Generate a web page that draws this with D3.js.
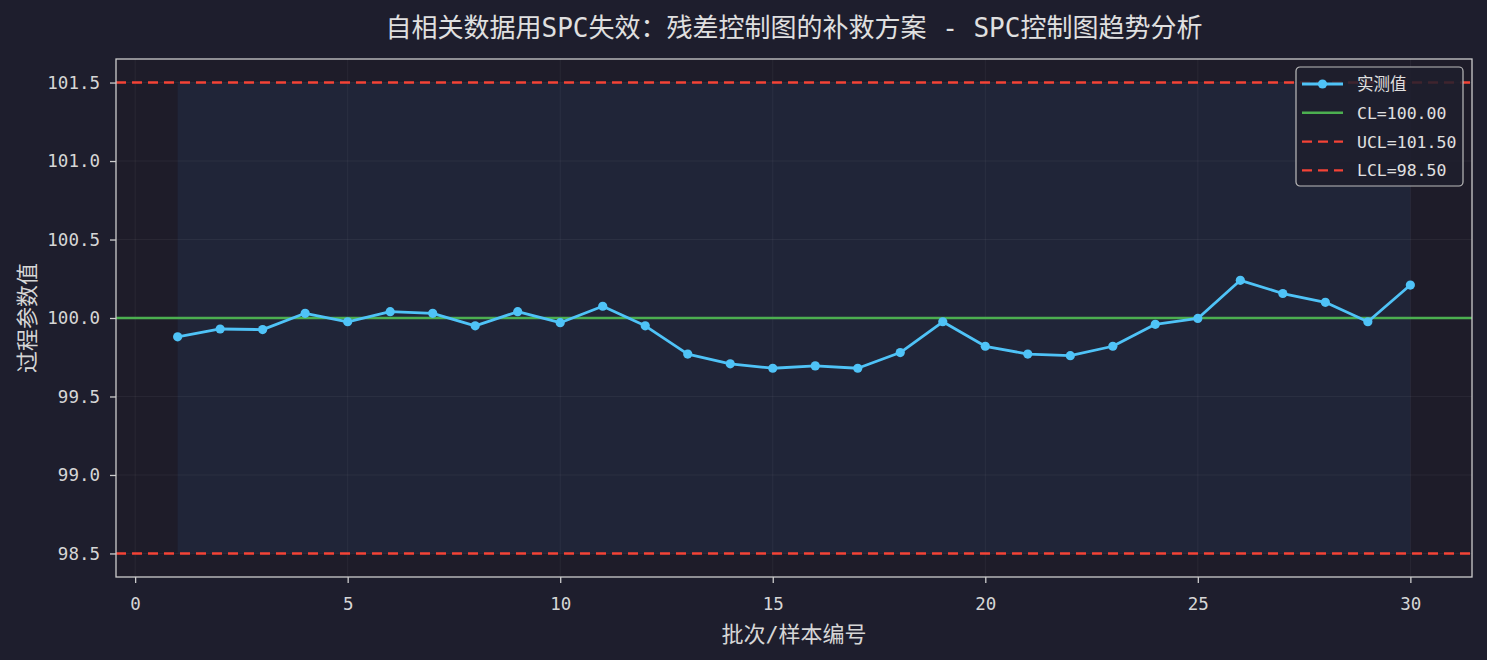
<!DOCTYPE html>
<html><head><meta charset="utf-8">
<script src="https://cdn.jsdelivr.net/npm/d3@7"></script>
<style>
html,body{margin:0;padding:0;background:#1e1e2d;}
svg{display:block;}
text{font-family:"DejaVu Sans Mono","Noto Sans CJK SC",monospace;}
</style></head>
<body>
<script>
const batches = d3.range(1, 31);
const values = [99.88,99.93,99.926,100.03,99.976,100.04,100.03,99.95,100.04,99.97,
  100.075,99.95,99.77,99.708,99.68,99.695,99.68,99.78,99.976,99.82,
  99.77,99.76,99.82,99.96,99.997,100.24,100.156,100.10,99.976,100.21];
const CL = 100.0, UCL = 101.5, LCL = 98.5;
const xTicks = [0,5,10,15,20,25,30];
const yTicks = [98.5,99.0,99.5,100.0,100.5,101.0,101.5];
const legendLabels = ["实测值","CL=100.00","UCL=101.50","LCL=98.50"];
const title = "自相关数据用SPC失效：残差控制图的补救方案 - SPC控制图趋势分析";
const xLabel = "批次/样本编号", yLabel = "过程参数值";

const W = 1487, H = 660;
const m = {left:116, right:W-1472, top:59, bottom:H-577};
const svg = d3.select("body").append("svg").attr("width",W).attr("height",H);
svg.append("rect").attr("width",W).attr("height",H).attr("fill","#1e1e2d");

const x = d3.scaleLinear().domain([-0.45,31.45]).range([m.left, W-m.right]);
const y = d3.scaleLinear().domain([98.35,101.65]).range([H-m.bottom, m.top]);

// axes background
svg.append("rect").attr("x",m.left).attr("y",m.top).attr("width",W-m.left-m.right).attr("height",H-m.top-m.bottom).attr("fill","#1e1c29");
// band
svg.append("rect").attr("x",x(1)).attr("y",y(UCL)).attr("width",x(30)-x(1)).attr("height",y(LCL)-y(UCL)).attr("fill","#202538");

// grid
const g = svg.append("g");
g.selectAll(".gx").data(xTicks).join("line").attr("x1",d=>x(d)).attr("x2",d=>x(d)).attr("y1",m.top).attr("y2",H-m.bottom).attr("stroke","#ffffff").attr("stroke-opacity",0.05).attr("stroke-width",1);
g.selectAll(".gy").data(yTicks).join("line").attr("y1",d=>y(d)).attr("y2",d=>y(d)).attr("x1",m.left).attr("x2",W-m.right).attr("stroke","#ffffff").attr("stroke-opacity",0.05).attr("stroke-width",1);

// control lines
svg.append("line").attr("x1",m.left).attr("x2",W-m.right).attr("y1",y(CL)).attr("y2",y(CL)).attr("stroke","#4caf50").attr("stroke-width",2.6);
[UCL,LCL].forEach(v=>{
  svg.append("line").attr("x1",m.left).attr("x2",W-m.right).attr("y1",y(v)).attr("y2",y(v)).attr("stroke","#f44336").attr("stroke-width",2.4).attr("stroke-dasharray","10,6");
});

// data line
const line = d3.line().x((d,i)=>x(batches[i])).y(d=>y(d));
svg.append("path").datum(values).attr("d",line).attr("fill","none").attr("stroke","#4fc3f7").attr("stroke-width",2.8).attr("stroke-linejoin","round");
svg.selectAll(".pt").data(values).join("circle").attr("cx",(d,i)=>x(batches[i])).attr("cy",d=>y(d)).attr("r",4.6).attr("fill","#4fc3f7");

// spines
svg.append("rect").attr("x",m.left).attr("y",m.top).attr("width",W-m.left-m.right).attr("height",H-m.top-m.bottom).attr("fill","none").attr("stroke","#cccccc").attr("stroke-width",1.3);

// axes
const xa = svg.append("g").attr("transform",`translate(0,${H-m.bottom})`).call(d3.axisBottom(x).tickValues(xTicks).tickFormat(d3.format("d")).tickSize(6).tickPadding(14));
const ya = svg.append("g").attr("transform",`translate(${m.left},0)`).call(d3.axisLeft(y).tickValues(yTicks).tickFormat(d3.format(".1f")).tickSize(6).tickPadding(10));
[xa,ya].forEach(a=>{
  a.select(".domain").remove();
  a.selectAll("line").attr("stroke","#cccccc").attr("stroke-width",1.3);
  a.selectAll("text").attr("fill","#d6d6d6").style("font-size","17.5px");
});
xa.selectAll("text").attr("dy","0");
xa.selectAll("text").attr("y",33);

// labels
svg.append("text").attr("x",(m.left+W-m.right)/2).attr("y",37).attr("text-anchor","middle").attr("fill","#e0e0e0").style("font-size","26px").text(title);
svg.append("text").attr("x",(m.left+W-m.right)/2).attr("y",642).attr("text-anchor","middle").attr("fill","#d6d6d6").style("font-size","22px").text(xLabel);
svg.append("text").attr("transform",`translate(35,${(m.top+H-m.bottom)/2}) rotate(-90)`).attr("text-anchor","middle").attr("fill","#d6d6d6").style("font-size","22px").text(yLabel);

// legend
const lg = svg.append("g").attr("transform","translate(1296,67)");
lg.append("rect").attr("width",167).attr("height",119).attr("rx",4).attr("fill","#1e1e2d").attr("fill-opacity",0.85).attr("stroke","#bbbbbb").attr("stroke-width",1.2);
const items = [
  {c:"#4fc3f7", dash:null, w:2.8, marker:true},
  {c:"#4caf50", dash:null, w:2.6, marker:false},
  {c:"#f44336", dash:"10,6", w:2.4, marker:false},
  {c:"#f44336", dash:"10,6", w:2.4, marker:false}
];
items.forEach((it,i)=>{
  const yy = 17 + i*28.8;
  lg.append("line").attr("x1",6).attr("x2",47).attr("y1",yy).attr("y2",yy).attr("stroke",it.c).attr("stroke-width",it.w).attr("stroke-dasharray",it.dash);
  if(it.marker) lg.append("circle").attr("cx",26.5).attr("cy",yy).attr("r",4.6).attr("fill",it.c);
  lg.append("text").attr("x",61).attr("y",yy+6).attr("fill","#e0e0e0").style("font-size","16.5px").text(legendLabels[i]);
});
</script>
</body></html>
